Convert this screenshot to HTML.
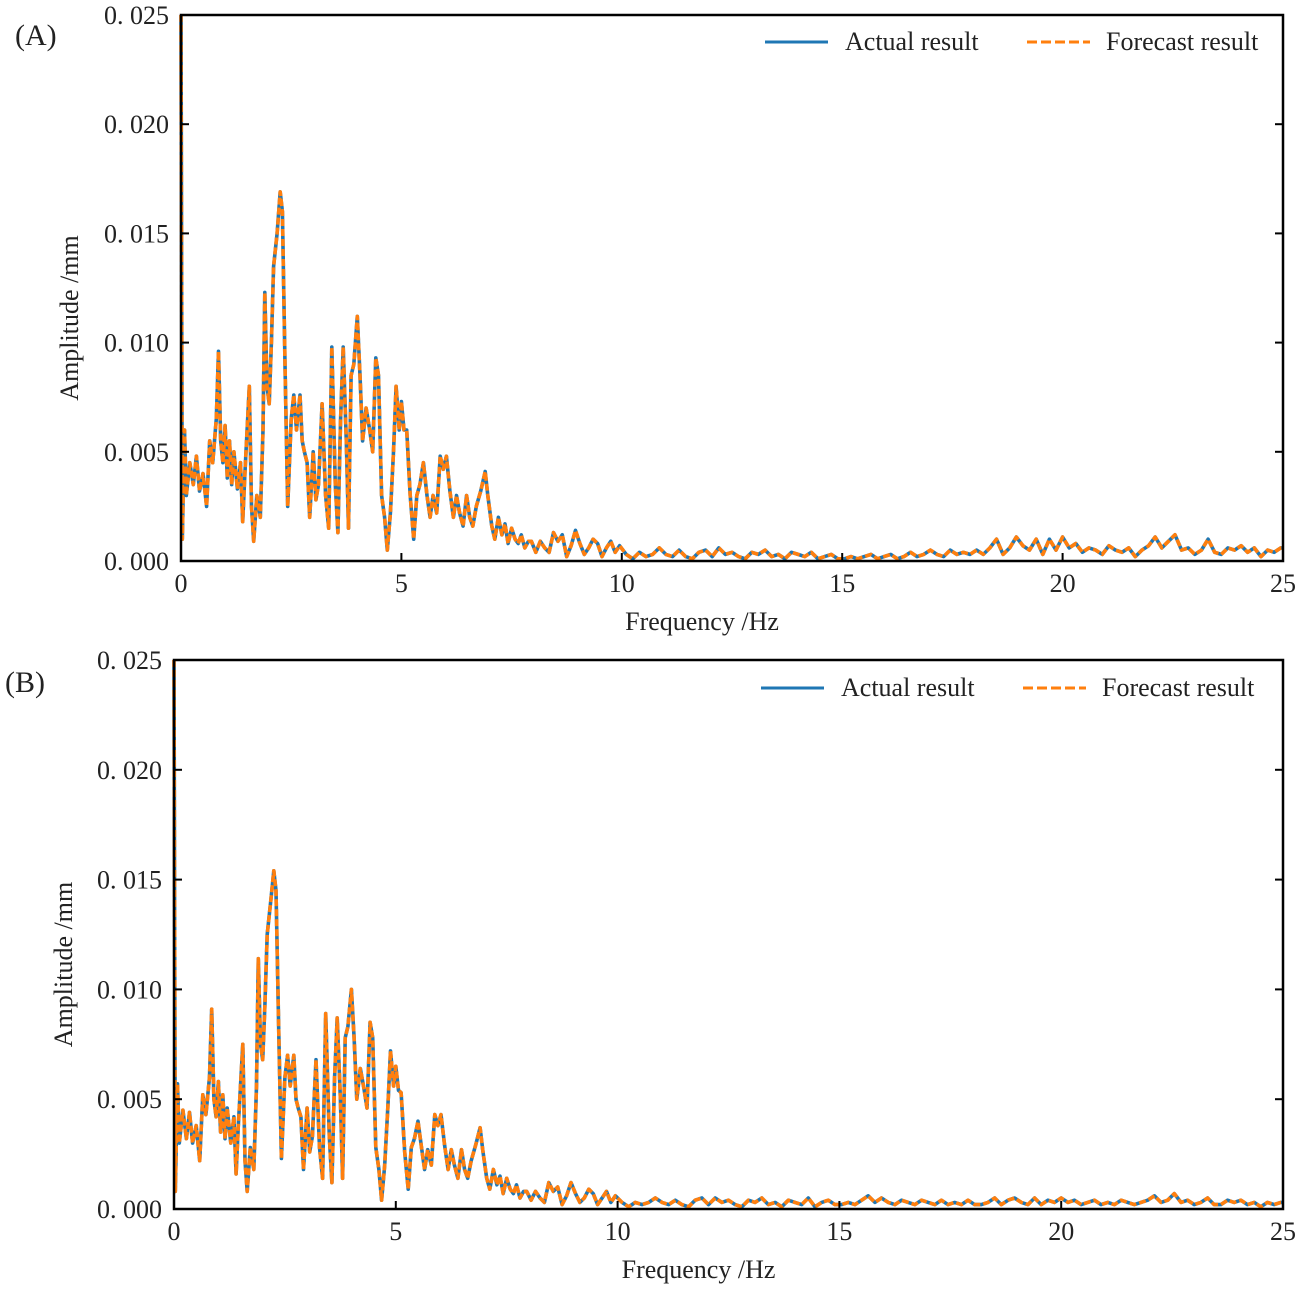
<!DOCTYPE html>
<html><head><meta charset="utf-8">
<style>
html,body{margin:0;padding:0;background:#fff;}
svg{display:block;font-family:"Liberation Serif","Noto Serif CJK SC",serif;}
</style></head>
<body>
<svg id="fig" width="1301" height="1291" viewBox="0 0 1301 1291"></svg>
<script>
// ---- data (amplitude in units of 0.001 mm) ----
const xTicks = [0,5,10,15,20,25];
const yTicks = [0,5,10,15,20,25];
const yTickLabels = ["0. 000","0. 005","0. 010","0. 015","0. 020","0. 025"];
const freqLowA = [0,0.03,0.08,0.12,0.2,0.28,0.35,0.42,0.5,0.58,0.65,0.72,0.8,0.85,0.9,0.95,1.0,1.05,1.1,1.15,1.2,1.28,1.35,1.4,1.45,1.5,1.55,1.6,1.65,1.72,1.8,1.86,1.9,1.95,2.0,2.05,2.1,2.18,2.25,2.3,2.36,2.42,2.5,2.56,2.62,2.7,2.75,2.8,2.86,2.92,3.0,3.06,3.12,3.2,3.28,3.35,3.42,3.5,3.56,3.62,3.68,3.75,3.8,3.86,3.92,4.0,4.06,4.12,4.2,4.28,4.35,4.42,4.48,4.55,4.62,4.68,4.75,4.82,4.88,4.95,5.0,5.06,5.12,5.2,5.28,5.35,5.42,5.5,5.58,5.65,5.72,5.8,5.88,5.95,6.02,6.1,6.18,6.25,6.32,6.4,6.48,6.55,6.62,6.7,6.8,6.9,6.96,7.05,7.12,7.2,7.28,7.35,7.42,7.5,7.58,7.65,7.72,7.8,7.88,7.95,8.05,8.15,8.25,8.35,8.45,8.55,8.65,8.75,8.85,8.95,9.05,9.15,9.25,9.35,9.45,9.55,9.65,9.75,9.85,9.95];
const ampLowA = [25,1,6,3,4.5,3.5,4.8,3.2,4,2.5,5.5,4.5,6.5,9.6,5.5,4.5,6.2,3.8,5.5,3.5,5,3.3,4.5,1.8,4,6,8,2.5,0.9,3,2,6,12.3,8,7.2,10,13.5,15,16.9,16,9,2.5,6.5,7.6,6,7.6,5.5,5,4.5,2,5,2.8,3.5,7.2,3,1.5,9.8,3.5,1.3,6.5,9.8,5.5,1.5,8.5,9,11.2,8.5,5.5,7,6,5,9.3,8.5,3,2,0.5,2.2,5,8,6,7.3,6,6,3,1,3,3.5,4.5,3,2,3,2.2,4.8,4.2,4.8,3.2,2,3,2.2,1.6,3,2,1.6,2.5,3.2,4.1,3,1.6,1,2,1.2,1.7,0.8,1.5,1.0,0.8,1.2,0.6,0.9,0.9,0.4,0.9,0.6,0.4,1.3,0.9,1.2,0.2,0.7,1.4,0.8,0.3,0.6,1.0,0.8,0.2,0.6,0.9,0.4,0.7];
const ampTailA = [0.3,0.1,0.4,0.2,0.3,0.6,0.3,0.2,0.5,0.2,0.1,0.4,0.5,0.2,0.6,0.3,0.4,0.2,0.1,0.4,0.3,0.5,0.2,0.3,0.1,0.4,0.3,0.2,0.4,0.1,0.2,0.3,0.1,0.1,0.2,0.1,0.2,0.3,0.1,0.2,0.3,0.1,0.2,0.4,0.2,0.3,0.5,0.3,0.2,0.5,0.3,0.4,0.3,0.5,0.3,0.6,1.0,0.3,0.6,1.1,0.7,0.5,1.0,0.3,1.0,0.5,1.1,0.6,0.8,0.4,0.6,0.5,0.3,0.7,0.5,0.4,0.6,0.2,0.5,0.7,1.1,0.6,0.9,1.2,0.5,0.6,0.3,0.5,1.0,0.4,0.3,0.6,0.5,0.7,0.4,0.6,0.2,0.5,0.4,0.6];
const freqLowB = freqLowA;
const ampLowB = [25,0.8,5.7,3,4.5,3.2,4.4,3,3.8,2.2,5.2,4.3,6,9.1,5,4.2,5.8,3.5,5.2,3.2,4.6,3,4.2,1.6,3.8,5.6,7.5,2.2,0.8,2.8,1.8,5.6,11.4,7.5,6.8,9.3,12.5,14,15.4,14.5,8.2,2.3,6,7,5.6,7,5,4.6,4.2,1.8,4.6,2.6,3.3,6.8,2.8,1.4,8.9,3.3,1.2,6,8.7,5,1.4,7.8,8.3,10,7.8,5,6.4,5.5,4.6,8.5,7.8,2.8,1.8,0.4,2,4.6,7.2,5.6,6.5,5.4,5.3,2.6,0.9,2.8,3.2,4,2.8,1.8,2.7,2,4.3,3.8,4.3,2.9,1.8,2.7,2,1.4,2.7,1.8,1.4,2.2,2.9,3.7,2.7,1.4,0.9,1.8,1.1,1.5,0.7,1.4,0.9,0.7,1.1,0.5,0.8,0.8,0.4,0.8,0.5,0.3,1.2,0.8,1.0,0.2,0.6,1.2,0.7,0.3,0.5,0.9,0.7,0.2,0.5,0.8,0.3,0.6];
const ampTailB = [0.3,0.1,0.3,0.2,0.3,0.5,0.3,0.2,0.4,0.2,0.1,0.4,0.5,0.2,0.5,0.3,0.4,0.2,0.1,0.4,0.3,0.5,0.2,0.3,0.1,0.4,0.3,0.2,0.5,0.1,0.3,0.4,0.2,0.2,0.3,0.2,0.4,0.6,0.3,0.5,0.3,0.2,0.4,0.3,0.2,0.4,0.3,0.2,0.4,0.2,0.3,0.2,0.4,0.2,0.2,0.3,0.5,0.2,0.4,0.5,0.3,0.2,0.5,0.2,0.4,0.3,0.5,0.3,0.4,0.2,0.3,0.4,0.2,0.3,0.2,0.4,0.3,0.2,0.3,0.4,0.6,0.3,0.4,0.7,0.3,0.4,0.2,0.3,0.5,0.2,0.2,0.4,0.3,0.4,0.2,0.3,0.1,0.3,0.2,0.3];
const tailStart = 10.1, tailStep = 0.15;

const NS="http://www.w3.org/2000/svg";
const svg=document.getElementById('fig');
function el(tag,attrs,parent){const e=document.createElementNS(NS,tag);for(const k in attrs)e.setAttribute(k,attrs[k]);(parent||svg).appendChild(e);return e;}

function panel(cfg){
  const g=el('g',{});
  
  
  const X=f=>cfg.x0+(f/25)*(cfg.x1-cfg.x0);
  const Y=v=>cfg.y1-(v/25)*(cfg.y1-cfg.y0);
  const fr=[...cfg.freqLow], am=[...cfg.ampLow];
  cfg.ampTail.forEach((v,i)=>{fr.push(tailStart+i*tailStep);am.push(v);});
  fr.push(25); am.push(cfg.ampTail[cfg.ampTail.length-1]);
  const d=fr.map((f,i)=>(i?'L':'M')+X(f).toFixed(1)+','+Y(am[i]).toFixed(1)).join('');
  const a=el('path',{d:d,fill:'none',stroke:'#1f77b4','stroke-width':3.6,'stroke-linejoin':'round'},g);
  
  
  const fc=el('path',{d:d,fill:'none',stroke:'#ff7f0e','stroke-width':3.6,'stroke-dasharray':'7,3','stroke-linejoin':'round'},g);
  
  
  const fr2=el('rect',{x:cfg.x0,y:cfg.y0,width:cfg.x1-cfg.x0,height:cfg.y1-cfg.y0,fill:'none',stroke:'#000','stroke-width':2.5},g);
  
  
  xTicks.forEach(t=>{
    const x=X(t);
    el('line',{x1:x,x2:x,y1:cfg.y1,y2:cfg.y1-8,stroke:'#000','stroke-width':2},g);
    const tx=el('text',{x:x,y:cfg.y1+31,'text-anchor':'middle','font-size':26,fill:'#222'},g);
    tx.textContent=t;
    
    
  });
  yTicks.forEach((t,i)=>{
    const y=Y(t);
    el('line',{x1:cfg.x0,x2:cfg.x0+8,y1:y,y2:y,stroke:'#000','stroke-width':2},g);
    el('line',{x1:cfg.x1,x2:cfg.x1-8,y1:y,y2:y,stroke:'#000','stroke-width':2},g);
    const ty=el('text',{x:cfg.x0-12,y:y+9,'text-anchor':'end','font-size':26,fill:'#222'},g);
    ty.textContent=yTickLabels[i];
    
    
  });
  const xl=el('text',{x:(cfg.x0+cfg.x1)/2-30,y:cfg.y1+69,'text-anchor':'middle','font-size':26,fill:'#222'},g);
  xl.textContent='Frequency /Hz';
  
  
  const yl=el('text',{x:0,y:0,'text-anchor':'middle','font-size':26,fill:'#222',transform:`translate(${cfg.ylx},${(cfg.y0+cfg.y1)/2+30}) rotate(-90)`},g);
  yl.textContent='Amplitude /mm';
  
  
  const pl=el('text',{x:cfg.lx,y:cfg.ly,'font-size':30,fill:'#222'},g);
  pl.textContent=cfg.label;
  
  
  const lg=el('g',{},g);
  
  
  const ly=cfg.legY;
  el('line',{x1:cfg.legX,x2:cfg.legX+63,y1:ly,y2:ly,stroke:'#1f77b4','stroke-width':3},lg);
  const t1=el('text',{x:cfg.legX+80,y:ly+8,'font-size':26,fill:'#222'},lg);
  t1.textContent='Actual result';
  
  
  el('line',{x1:cfg.legX+262,x2:cfg.legX+325,y1:ly,y2:ly,stroke:'#ff7f0e','stroke-width':3,'stroke-dasharray':'10,4'},lg);
  const t2=el('text',{x:cfg.legX+341,y:ly+8,'font-size':26,fill:'#222'},lg);
  t2.textContent='Forecast result';
  
  
}
panel({name:'panel-a',x0:181,x1:1283,y0:15,y1:561,freqLow:freqLowA,ampLow:ampLowA,ampTail:ampTailA,ylx:78,lx:15,ly:45,label:'(A)',legX:765,legY:42});
panel({name:'panel-b',x0:174,x1:1283,y0:660,y1:1209,freqLow:freqLowB,ampLow:ampLowB,ampTail:ampTailB,ylx:72,lx:5,ly:692,label:'(B)',legX:761,legY:688});
</script>
</body></html>
